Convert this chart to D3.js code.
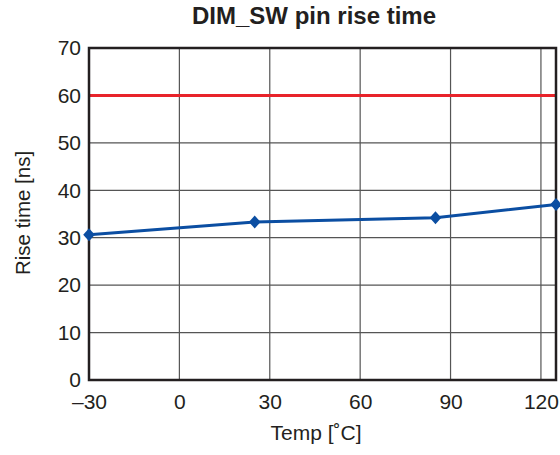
<!DOCTYPE html>
<html lang="en">
<head>
<meta charset="UTF-8">
<title>DIM_SW pin rise time</title>
<style>
  html, body { margin: 0; padding: 0; background: #fff; }
  svg { display: block; font-family: "Liberation Sans", Arial, sans-serif; }
</style>
</head>
<body>
<div id="chart"></div>
<script src="https://d3js.org/d3.v7.min.js"></script>
<script>
// data
const temps = [-30, 25, 85, 125];
const riseTime = [30.6, 33.3, 34.2, 37.0];
const limitValue = 60;
const xTicks = [-30, 0, 30, 60, 90, 120];
const yTicks = [0, 10, 20, 30, 40, 50, 60, 70];

const width = 560, height = 455;
const margin = { top: 48, right: 4, bottom: 75, left: 89 };

const svg = d3.select('#chart').append('svg')
  .attr('width', width)
  .attr('height', height);

const x = d3.scaleLinear().domain([-30, 125]).range([margin.left, width - margin.right]);
const y = d3.scaleLinear().domain([0, 70]).range([height - margin.bottom, margin.top]);

// grid
svg.append('g')
  .selectAll('line.vgrid')
  .data(xTicks.filter(t => t > -30))
  .enter().append('line')
  .attr('x1', d => x(d)).attr('x2', d => x(d))
  .attr('y1', y(0)).attr('y2', y(70))
  .attr('stroke', '#555').attr('stroke-width', 1.2);

svg.append('g')
  .selectAll('line.hgrid')
  .data(yTicks.filter(t => t > 0 && t < 70))
  .enter().append('line')
  .attr('x1', x(-30)).attr('x2', x(125))
  .attr('y1', d => y(d)).attr('y2', d => y(d))
  .attr('stroke', '#555').attr('stroke-width', 1.2);

// limit line
svg.append('line')
  .attr('x1', x(-30)).attr('x2', x(125))
  .attr('y1', y(limitValue)).attr('y2', y(limitValue))
  .attr('stroke', '#e8232a').attr('stroke-width', 3);

// frame
svg.append('rect')
  .attr('x', x(-30)).attr('y', y(70))
  .attr('width', x(125) - x(-30)).attr('height', y(0) - y(70))
  .attr('fill', 'none').attr('stroke', '#231f20').attr('stroke-width', 2.5);

// axes (labels only)
const xAxis = svg.append('g')
  .attr('transform', `translate(0,${y(0)})`)
  .call(d3.axisBottom(x).tickValues(xTicks).tickSize(0).tickPadding(14)
    .tickFormat(d => d < 0 ? '\u2013' + Math.abs(d) : d));
xAxis.select('.domain').remove();
xAxis.selectAll('text').attr('font-size', 21).attr('fill', '#231f20')
  .attr('font-family', '"Liberation Sans", Arial, sans-serif');

const yAxis = svg.append('g')
  .attr('transform', `translate(${x(-30)},0)`)
  .call(d3.axisLeft(y).tickValues(yTicks).tickSize(0).tickPadding(8));
yAxis.select('.domain').remove();
yAxis.selectAll('text').attr('font-size', 21).attr('fill', '#231f20')
  .attr('font-family', '"Liberation Sans", Arial, sans-serif');

// series
const pts = temps.map((t, i) => [t, riseTime[i]]);
svg.append('path')
  .datum(pts)
  .attr('fill', 'none')
  .attr('stroke', '#0b4ea2')
  .attr('stroke-width', 3)
  .attr('d', d3.line().x(d => x(d[0])).y(d => y(d[1])));

svg.selectAll('path.marker')
  .data(pts)
  .enter().append('path')
  .attr('class', 'marker')
  .attr('transform', d => `translate(${x(d[0])},${y(d[1])})`)
  .attr('d', 'M0,-6.5L5.8,0L0,6.5L-5.8,0Z')
  .attr('fill', '#0b4ea2');

// titles
svg.append('text')
  .attr('x', 314).attr('y', 24)
  .attr('text-anchor', 'middle')
  .attr('font-size', 24).attr('font-weight', 'bold').attr('fill', '#231f20')
  .text('DIM_SW pin rise time');

svg.append('text')
  .attr('x', 316).attr('y', 440)
  .attr('text-anchor', 'middle')
  .attr('font-size', 21).attr('fill', '#231f20')
  .text('Temp [\u02DAC]');

svg.append('text')
  .attr('transform', 'translate(30,213) rotate(-90)')
  .attr('text-anchor', 'middle')
  .attr('font-size', 20.5).attr('fill', '#231f20')
  .text('Rise time [ns]');
</script>
</body>
</html>
